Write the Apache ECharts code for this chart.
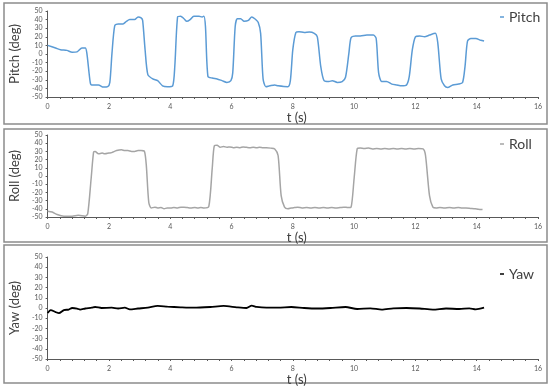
<!DOCTYPE html>
<html>
<head>
<meta charset="utf-8">
<script src="https://cdn.jsdelivr.net/npm/echarts@6/dist/echarts.min.js"></script>
<style>
  html, body { margin: 0; padding: 0; background: #fff; }
  #chart { width: 550px; height: 392px; }
</style>
</head>
<body>
<div id="chart"></div>
<script>
// series names and axis labels
const seriesNames = ['Pitch', 'Roll', 'Yaw']
const yAxisNames = ['Pitch (deg)', 'Roll (deg)', 'Yaw (deg)']
const xAxisName = 't (s)'

// [t (s), angle (deg)]
const pitchData = [
  [0, 10], [0.26, 7], [0.42, 5], [0.63, 4.2], [0.8, 2], [0.96, 2.5], [1.12, 7], [1.23, 7], [1.28, 1],
  [1.39, -33], [1.44, -36], [1.66, -36], [1.82, -38.5], [1.96, -38], [2.03, -33], [2.1, 1], [2.19, 33],
  [2.3, 35], [2.46, 35], [2.57, 38], [2.68, 40], [2.84, 40], [2.95, 43], [3.05, 42], [3.1, 39], [3.18, 5],
  [3.27, -24], [3.43, -29], [3.59, -31], [3.75, -37], [3.91, -38], [4.08, -37], [4.15, -14], [4.24, 43],
  [4.34, 44], [4.45, 41], [4.54, 38], [4.65, 40], [4.77, 44], [4.94, 44], [5.04, 43], [5.1, 44], [5.15, 32],
  [5.23, -26], [5.37, -28], [5.53, -29], [5.69, -31], [5.85, -33], [5.98, -31], [6.04, -22], [6.12, 32],
  [6.19, 41], [6.3, 41], [6.41, 38], [6.55, 39], [6.66, 43], [6.76, 41], [6.87, 37], [6.95, 24], [7.03, -29],
  [7.12, -38], [7.25, -37], [7.41, -36], [7.52, -37], [7.84, -38], [7.92, -31], [8.0, 5], [8.1, 25],
  [8.2, 26], [8.37, 25], [8.54, 25.5], [8.7, 24], [8.8, 20], [8.91, -14], [9.02, -31], [9.18, -32],
  [9.29, -31], [9.45, -33], [9.61, -32], [9.72, -27], [9.83, 1], [9.9, 19], [10.04, 21], [10.2, 21],
  [10.42, 22], [10.63, 22], [10.72, 18], [10.8, -22], [10.9, -32], [11.06, -32], [11.23, -35], [11.39, -36],
  [11.55, -37], [11.71, -36], [11.8, -26], [11.9, 5], [12.0, 20], [12.14, 21], [12.3, 20], [12.46, 22],
  [12.65, 24], [12.73, 13], [12.84, -29], [12.95, -37], [13.05, -39], [13.22, -36], [13.41, -35],
  [13.54, -33], [13.62, -14], [13.7, 15], [13.81, 18], [13.97, 18], [14.13, 16], [14.24, 15]
]

const rollData = [
  [0, -43], [0.15, -44], [0.31, -47], [0.53, -49], [0.8, -49], [1.0, -48], [1.23, -49], [1.31, -46],
  [1.42, -3], [1.5, 29], [1.55, 30], [1.66, 27], [1.78, 28], [1.87, 27], [2.0, 28], [2.09, 28.5], [2.25, 31],
  [2.41, 32], [2.52, 31], [2.62, 31], [2.74, 30], [2.84, 30], [2.95, 31], [3.05, 31], [3.16, 30], [3.22, 13],
  [3.3, -32], [3.38, -39], [3.5, -38], [3.59, -39], [3.7, -38.5], [3.8, -40], [3.9, -39], [4.02, -39],
  [4.12, -38.5], [4.24, -39], [4.35, -38], [4.45, -38], [4.56, -38.5], [4.67, -39], [4.8, -38.5], [4.9, -39],
  [5.0, -38.5], [5.1, -39], [5.26, -37], [5.37, 9], [5.44, 37], [5.53, 37.5], [5.63, 35], [5.74, 36],
  [5.85, 35], [5.95, 35.5], [6.06, 34.5], [6.17, 35], [6.28, 34.5], [6.38, 35.5], [6.49, 35], [6.6, 34.5],
  [6.71, 35], [6.82, 34.5], [6.92, 35], [7.03, 34.5], [7.14, 34.5], [7.28, 34], [7.41, 33], [7.52, 25],
  [7.62, -24], [7.73, -38], [7.84, -40], [7.95, -39], [8.05, -38.5], [8.16, -38], [8.3, -39], [8.45, -38.5],
  [8.59, -39], [8.72, -38.5], [8.86, -39], [9.0, -38.5], [9.13, -39], [9.27, -38.5], [9.4, -39], [9.54, -38.5],
  [9.67, -38], [9.8, -38.5], [9.9, -38], [10.0, -3], [10.1, 33], [10.2, 34], [10.33, 33.5], [10.47, 34],
  [10.6, 33], [10.74, 33.5], [10.88, 33], [11.0, 33.5], [11.14, 33], [11.28, 33.5], [11.41, 33], [11.55, 33.5],
  [11.68, 33], [11.82, 33.5], [11.96, 33], [12.1, 33.5], [12.25, 33], [12.33, 25], [12.46, -24], [12.57, -38],
  [12.68, -39], [12.8, -38.5], [12.95, -39], [13.11, -38.5], [13.25, -39], [13.4, -38.5], [13.52, -39],
  [13.65, -39], [13.8, -39.5], [13.95, -40], [14.05, -40.5], [14.19, -41]
]

const yawData = [
  [0, -5], [0.1, -2], [0.26, -4], [0.37, -5], [0.53, -2], [0.69, -1.5], [0.8, 0], [0.96, -0.5], [1.06, -1.5],
  [1.23, -0.5], [1.44, 0.3], [1.55, 1], [1.76, 0], [2.09, 0.3], [2.3, -0.5], [2.52, 0.3], [2.68, -1.3],
  [2.95, -0.5], [3.27, 0.3], [3.59, 2], [3.91, 1.3], [4.34, 0.7], [4.77, 0.3], [5.31, 1], [5.74, 2],
  [6.17, 0.7], [6.49, 0], [6.66, 2.3], [6.82, 1], [7.14, 0.3], [7.52, 0.3], [7.95, 1], [8.37, 0], [8.8, -0.5],
  [9.23, 0], [9.72, 1], [10.1, -1], [10.53, -0.3], [10.9, -1.5], [11.28, -0.3], [11.71, 0], [12.14, -0.5],
  [12.57, -1.5], [13.0, -0.5], [13.43, -1], [13.76, -0.3], [13.97, -1.3], [14.24, 0.3]
]

const seriesData = [pitchData, rollData, yawData]
const colors = ['#5B9BD5', '#A5A5A5', '#000000']
const lineWidths = [1.5, 1.5, 1.8]

// panel frames and plot areas (px)
const frames = [
  { y: 3, h: 121 },
  { y: 129, h: 113 },
  { y: 245, h: 138 }
]
const grids = [
  { top: 11, height: 86 },
  { top: 135, height: 82 },
  { top: 257, height: 102 }
]
const legendTops = [5, 132, 262]

const chart = echarts.init(document.getElementById('chart'))

const option = {
  backgroundColor: '#fff',
  animation: false,
  textStyle: { fontFamily: 'Lato, "Open Sans", sans-serif' },
  graphic: frames.map(f => ({
    type: 'rect',
    shape: { x: 4, y: f.y, width: 543, height: f.h },
    style: { fill: 'none', stroke: '#8c8c8c', lineWidth: 1.5 },
    silent: true
  })),
  legend: seriesNames.map((name, i) => ({
    data: [name],
    left: 495,
    top: legendTops[i],
    icon: 'rect',
    itemWidth: 4,
    itemHeight: 1.5,
    itemGap: 4,
    textStyle: { fontSize: 14, color: '#404040', fontFamily: 'Lato, sans-serif' }
  })),
  grid: grids.map(g => ({ left: 42, right: 12, top: g.top, height: g.height })),
  xAxis: grids.map((g, i) => ({
    type: 'value',
    gridIndex: i,
    min: 0,
    max: 16,
    interval: 2,
    name: xAxisName,
    nameLocation: 'middle',
    nameGap: 13,
    nameTextStyle: { fontSize: 13, color: '#404040', padding: [0, 0, 0, 8] },
    axisLine: { onZero: false, lineStyle: { color: '#595959', width: 1 } },
    axisTick: { show: true, length: 2, lineStyle: { color: '#595959' } },
    minorTick: { show: true, splitNumber: 5, length: 2, lineStyle: { color: '#595959' } },
    axisLabel: { fontSize: 7, color: '#595959', margin: 6 },
    splitLine: { show: false }
  })),
  yAxis: grids.map((g, i) => ({
    type: 'value',
    gridIndex: i,
    min: -50,
    max: 50,
    interval: 10,
    name: yAxisNames[i],
    nameLocation: 'middle',
    nameGap: 16,
    nameTextStyle: { fontSize: 13, color: '#404040' },
    axisLine: { show: true, onZero: false, lineStyle: { color: '#595959', width: 1 } },
    axisTick: { show: true, length: 2, lineStyle: { color: '#595959' } },
    axisLabel: { fontSize: 7, color: '#595959', margin: 5 },
    splitLine: { show: false }
  })),
  series: seriesNames.map((name, i) => ({
    name: name,
    type: 'line',
    xAxisIndex: i,
    yAxisIndex: i,
    data: seriesData[i],
    showSymbol: false,
    smooth: 0.25,
    color: colors[i],
    lineStyle: { color: colors[i], width: lineWidths[i] }
  }))
}

chart.setOption(option)
</script>
</body>
</html>
